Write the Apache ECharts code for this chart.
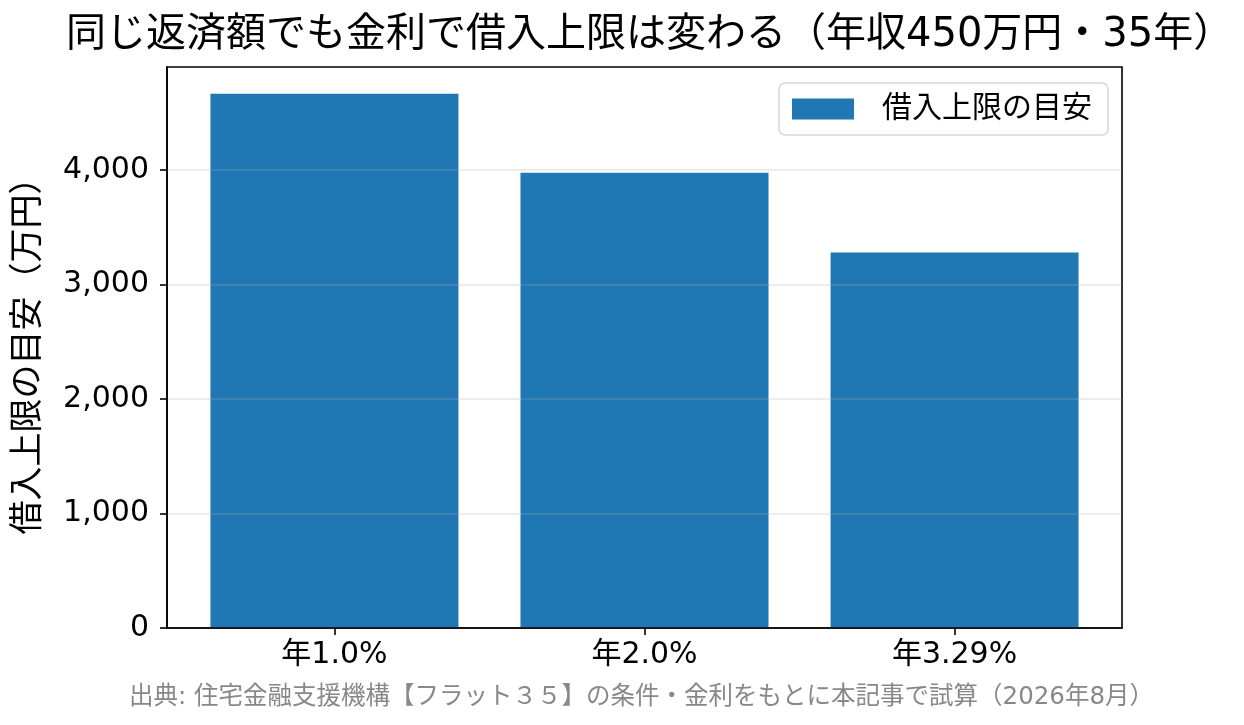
<!DOCTYPE html>
<html>
<head>
<meta charset="utf-8">
<script src="https://cdn.jsdelivr.net/npm/echarts@6/dist/echarts.min.js"></script>
<style>
  html, body { margin: 0; padding: 0; background: #fff; }
  #mychart { width: 1244px; height: 725px; }
</style>
</head>
<body>
<div id="mychart"></div>
<script>
// 金利ごとの借入上限（万円）
const rates = ['年1.0%', '年2.0%', '年3.29%'];
const limits = [4664, 3975, 3278];
const yTicks = [0, 1000, 2000, 3000, 4000];

const seriesName = '借入上限の目安';
const titleText = '同じ返済額でも金利で借入上限は変わる（年収450万円・35年）';
const yName = '借入上限の目安（万円）';
const noteText = '出典: 住宅金融支援機構【フラット３５】の条件・金利をもとに本記事で試算（2026年8月）';

// 欧文は DejaVu Sans、和文は Noto Sans CJK JP にフォールバック
const FONT = '"DejaVu Sans", "Noto Sans CJK JP", sans-serif';
const colors = {
  bar: '#1f77b4',
  axis: '#000',
  grid: 'rgba(176, 176, 176, 0.3)',
  note: '#888',
};

let myChart = echarts.init(document.getElementById('mychart'));

let option = {
  animation: false,
  textStyle: { fontFamily: FONT },
  title: [
    {
      text: titleText,
      left: 61,
      top: 11,
      textStyle: { fontSize: 40, fontWeight: 'normal', color: '#000', fontFamily: FONT },
    },
    {
      text: noteText,
      left: 124,
      top: 680,
      textStyle: { fontSize: 24.5, fontWeight: 'normal', color: colors.note, fontFamily: FONT },
    },
  ],
  legend: {
    right: 136,
    top: 83,
    icon: 'rect',
    itemWidth: 62,
    itemHeight: 21,
    padding: [11, 16, 11, 13],
    borderColor: '#d6d6d6',
    borderWidth: 1.5,
    borderRadius: 6,
    textStyle: { fontSize: 30, color: '#000', fontFamily: FONT, padding: [0, 0, 0, 23] },
    data: [seriesName],
  },
  grid: {
    left: 167,
    right: 122,
    top: 67,
    bottom: 97,
    show: true,
    borderColor: colors.axis,
    borderWidth: 1.6,
  },
  xAxis: {
    type: 'value',
    min: -0.54,
    max: 2.54,
    z: 3,
    splitLine: { show: false },
    axisLine: { show: true, onZero: false, lineStyle: { color: colors.axis, width: 1.6 } },
    axisTick: {
      show: true,
      length: 7,
      customValues: [0, 1, 2],
      lineStyle: { color: colors.axis, width: 1.6 },
    },
    axisLabel: {
      customValues: [0, 1, 2],
      formatter: (v) => rates[Math.round(v)],
      fontSize: 30,
      color: '#000',
      margin: 12,
    },
  },
  yAxis: {
    type: 'value',
    min: 0,
    max: Math.max(...limits) * 1.05,
    z: 3,
    name: yName,
    nameLocation: 'middle',
    nameGap: 121,
    nameTextStyle: { fontSize: 34, color: '#000', fontFamily: FONT },
    axisLine: { show: true, onZero: false, lineStyle: { color: colors.axis, width: 1.6 } },
    axisTick: {
      show: true,
      length: 7,
      customValues: yTicks,
      lineStyle: { color: colors.axis, width: 1.6 },
    },
    axisLabel: {
      customValues: yTicks,
      formatter: (v) => v.toLocaleString('en-US'),
      fontSize: 30,
      color: '#000',
      margin: 18,
    },
    splitLine: { show: true, lineStyle: { color: colors.grid, width: 1.6 } },
  },
  series: [
    {
      name: seriesName,
      type: 'bar',
      barWidth: 248,
      itemStyle: { color: colors.bar },
      data: limits.map((v, i) => [i, v]),
    },
  ],
};

myChart.setOption(option);
</script>
</body>
</html>
